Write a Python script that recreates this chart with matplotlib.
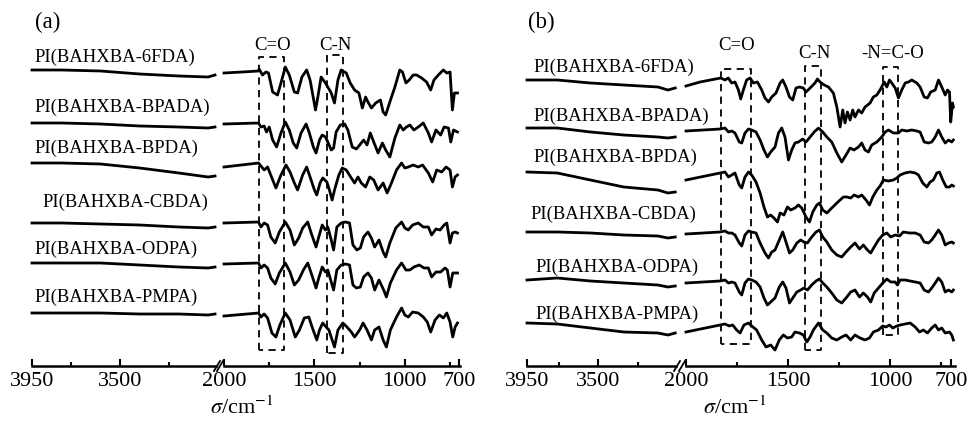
import matplotlib.pyplot as plt
from matplotlib.ticker import FixedLocator

plt.rcParams['font.family'] = ['Liberation Serif', 'DejaVu Serif']
plt.rcParams['mathtext.fontset'] = 'stix'

names = ['PI(BAHXBA-6FDA)', 'PI(BAHXBA-BPADA)', 'PI(BAHXBA-BPDA)',
         'PI(BAHXBA-CBDA)', 'PI(BAHXBA-ODPA)', 'PI(BAHXBA-PMPA)']

# ---- panel (a) ----
# high wavenumber part (3950-3010), stacked intensity (arb. units)
a_hi_wn = [3950, 3800, 3600, 3400, 3200, 3050, 3015]
a_hi = [[296, 296, 295, 292, 290, 289, 291],
        [243, 243, 242, 240, 239, 238, 239],
        [203, 203, 202, 198, 193, 189, 190],
        [143, 143, 142, 141, 139, 138, 139],
        [103, 103, 103, 101, 99, 98, 99],
        [53, 53, 53, 52, 52, 51, 52]]

a_6fda_wn = [2000, 1900, 1809, 1806, 1787, 1768, 1754, 1731, 1704, 1685, 1661, 1639, 1611, 1593, 1569,
             1543, 1524, 1494, 1481, 1463, 1439, 1426, 1407, 1389, 1370, 1352, 1324, 1302, 1278, 1254,
             1235, 1217, 1204, 1185, 1161, 1135, 1120, 1106, 1083, 1055, 1028, 1013, 994, 976, 954,
             935, 907, 880, 857, 839, 815, 787, 768, 750, 737, 726, 709]
a_6fda = [293, 294, 295, 297, 291, 294, 293, 274, 271, 283, 299, 291, 274, 273, 289,
          296, 286, 256, 269, 289, 283, 279, 273, 263, 286, 296, 293, 283, 276, 273,
          258, 269, 264, 258, 263, 266, 254, 251, 264, 279, 296, 294, 283, 286, 291,
          291, 288, 284, 276, 286, 291, 296, 293, 294, 256, 273, 273]

a_bpada_wn = [2000, 1809, 1796, 1778, 1765, 1750, 1731, 1709, 1685, 1661, 1639, 1617, 1598, 1574, 1546,
              1528, 1506, 1491, 1472, 1457, 1439, 1426, 1407, 1394, 1380, 1357, 1333, 1315, 1291, 1268,
              1250, 1228, 1209, 1191, 1172, 1148, 1124, 1106, 1083, 1055, 1028, 1009, 991, 972, 950,
              926, 898, 870, 852, 828, 802, 783, 759, 746, 731, 709]
a_bpada = [242, 243, 239, 240, 234, 239, 226, 219, 233, 244, 236, 223, 218, 233, 242,
           233, 219, 213, 226, 231, 229, 224, 216, 218, 234, 241, 242, 236, 219, 217,
           221, 226, 221, 233, 224, 213, 223, 216, 209, 228, 241, 236, 239, 241, 236,
           239, 243, 233, 224, 236, 231, 239, 238, 224, 236, 234]

a_bpda_wn = [2000, 1809, 1796, 1778, 1759, 1735, 1713, 1685, 1657, 1635, 1611, 1593, 1565, 1543, 1524,
             1500, 1487, 1469, 1454, 1431, 1417, 1402, 1389, 1365, 1346, 1324, 1296, 1278, 1259, 1241,
             1217, 1194, 1172, 1148, 1120, 1098, 1074, 1046, 1018, 1000, 981, 954, 926, 902, 870,
             846, 824, 796, 772, 750, 737, 722, 709]
a_bpda = [199, 203, 200, 196, 199, 188, 178, 191, 201, 194, 183, 176, 191, 199, 189,
          176, 171, 183, 188, 184, 176, 166, 176, 191, 198, 196, 188, 183, 189, 183,
          179, 189, 186, 176, 183, 173, 183, 196, 203, 198, 199, 201, 199, 201, 193,
          184, 196, 194, 199, 196, 179, 189, 191]

a_cbda_wn = [2000, 1809, 1796, 1778, 1759, 1741, 1717, 1694, 1661, 1635, 1611, 1587, 1565, 1537, 1518,
             1491, 1476, 1457, 1439, 1426, 1407, 1394, 1376, 1352, 1328, 1306, 1287, 1265, 1246, 1228,
             1204, 1185, 1167, 1143, 1120, 1106, 1083, 1050, 1018, 1000, 981, 957, 926, 898, 870,
             852, 828, 805, 783, 768, 750, 737, 722, 709]
a_cbda = [143, 144, 139, 143, 141, 129, 123, 134, 144, 136, 121, 128, 138, 144, 133,
          119, 129, 141, 136, 139, 126, 116, 139, 143, 144, 143, 121, 116, 118, 129,
          134, 128, 119, 126, 114, 109, 123, 138, 144, 138, 136, 141, 143, 139, 139,
          131, 137, 136, 141, 143, 123, 133, 134, 133]

a_odpa_wn = [2000, 1809, 1796, 1778, 1759, 1741, 1717, 1694, 1661, 1635, 1611, 1587, 1561, 1537, 1518,
             1491, 1476, 1457, 1439, 1426, 1407, 1394, 1376, 1352, 1328, 1306, 1287, 1268, 1246, 1228,
             1204, 1185, 1167, 1143, 1117, 1102, 1080, 1046, 1018, 994, 972, 950, 920, 894, 870,
             852, 828, 802, 778, 765, 750, 735, 709]
a_odpa = [102, 103, 98, 101, 98, 88, 82, 93, 103, 94, 81, 86, 96, 103, 93,
          78, 88, 99, 94, 96, 84, 76, 96, 101, 102, 101, 81, 78, 79, 89,
          93, 88, 76, 86, 76, 69, 83, 96, 103, 96, 96, 99, 101, 98, 98,
          89, 94, 94, 98, 96, 79, 93, 93]

a_pmpa_wn = [2000, 1809, 1796, 1778, 1759, 1735, 1713, 1691, 1661, 1635, 1606, 1583, 1556, 1531, 1513,
             1487, 1472, 1454, 1435, 1420, 1402, 1389, 1370, 1343, 1320, 1296, 1278, 1250, 1231, 1209,
             1185, 1167, 1143, 1120, 1102, 1080, 1046, 1018, 1000, 981, 957, 926, 898, 876, 857,
             833, 809, 787, 768, 750, 735, 722, 709]
a_pmpa = [50, 53, 49, 52, 48, 33, 29, 41, 53, 46, 29, 36, 48, 49, 39,
          26, 36, 43, 39, 36, 26, 19, 36, 43, 39, 34, 29, 36, 43, 36,
          26, 36, 39, 26, 19, 36, 49, 58, 51, 49, 54, 53, 49, 44, 34,
          46, 51, 48, 53, 44, 29, 39, 43]

# ---- panel (b) ----
b_hi_wn = [3950, 3759, 3550, 3340, 3124, 3061, 3015]
b_hi = [[286, 286, 283, 281, 279, 276, 278],
        [238, 238, 234, 231, 229, 228, 229],
        [194, 193, 186, 179, 176, 173, 174],
        [134, 134, 133, 131, 130, 128, 129],
        [86, 88, 85, 83, 81, 79, 80],
        [43, 42, 38, 34, 33, 31, 33]]

b_6fda_wn = [2000, 1931, 1830, 1809, 1793, 1776, 1760, 1743, 1732, 1719, 1703, 1686, 1670, 1650, 1629,
             1613, 1596, 1580, 1559, 1539, 1526, 1510, 1493, 1477, 1461, 1444, 1425, 1412, 1392, 1368,
             1356, 1343, 1323, 1302, 1278, 1261, 1245, 1232, 1221, 1209, 1196, 1183, 1172, 1155, 1139,
             1123, 1098, 1082, 1065, 1049, 1029, 1016, 1003, 992, 975, 959, 943, 926, 910, 894,
             869, 853, 833, 817, 801, 779, 763, 747, 730, 719, 709, 703, 694, 690]
b_6fda = [280, 284, 288, 286, 288, 283, 284, 276, 267, 276, 286, 288, 283, 284, 276,
          268, 264, 269, 273, 283, 286, 279, 269, 266, 278, 279, 278, 274, 278, 283,
          287, 284, 281, 279, 273, 259, 239, 256, 243, 254, 246, 256, 249, 256, 253,
          259, 263, 269, 271, 276, 284, 279, 286, 283, 278, 268, 276, 283, 284, 286,
          283, 279, 269, 268, 274, 276, 286, 279, 271, 276, 274, 244, 263, 259]

b_bpada_wn = [2000, 1833, 1809, 1792, 1776, 1760, 1739, 1727, 1711, 1694, 1678, 1657, 1637, 1618, 1601,
              1585, 1564, 1547, 1531, 1515, 1498, 1482, 1466, 1449, 1428, 1412, 1392, 1372, 1351, 1330,
              1310, 1286, 1261, 1237, 1216, 1196, 1177, 1155, 1139, 1123, 1106, 1090, 1065, 1041, 1024,
              1008, 984, 959, 943, 918, 894, 869, 853, 833, 812, 796, 779, 763, 747, 730,
              714, 698, 690]
b_bpada = [235, 237, 238, 234, 235, 233, 224, 223, 233, 237, 236, 234, 226, 216, 209,
           214, 219, 233, 238, 229, 206, 216, 223, 224, 227, 224, 229, 234, 238, 234,
           229, 224, 213, 204, 211, 218, 216, 219, 223, 216, 214, 221, 224, 229, 234,
           236, 233, 233, 236, 235, 236, 235, 234, 224, 223, 224, 229, 236, 229, 223,
           226, 224, 226]

b_bpda_wn = [2000, 1833, 1809, 1792, 1776, 1760, 1739, 1727, 1711, 1694, 1678, 1657, 1637, 1618, 1601,
             1585, 1569, 1552, 1539, 1520, 1503, 1487, 1466, 1449, 1433, 1412, 1395, 1379, 1359, 1346,
             1330, 1310, 1286, 1261, 1245, 1229, 1212, 1193, 1176, 1155, 1139, 1118, 1101, 1085, 1065,
             1049, 1033, 1008, 984, 967, 951, 927, 902, 877, 861, 840, 820, 804, 788, 771,
             758, 742, 725, 709, 698, 690]
b_bpda = [186, 193, 194, 189, 191, 193, 181, 178, 189, 194, 191, 184, 173, 159, 149,
          151, 148, 144, 153, 151, 159, 156, 158, 161, 158, 149, 144, 154, 161, 163,
          156, 153, 158, 163, 166, 169, 169, 168, 171, 169, 171, 166, 161, 169, 176,
          180, 186, 185, 186, 188, 191, 193, 194, 193, 191, 183, 179, 184, 186, 193,
          194, 186, 179, 179, 181, 180]

b_cbda_wn = [2000, 1833, 1809, 1792, 1776, 1760, 1739, 1727, 1711, 1694, 1678, 1657, 1637, 1613, 1596,
             1580, 1564, 1543, 1526, 1510, 1493, 1477, 1457, 1438, 1422, 1405, 1384, 1363, 1346, 1330,
             1310, 1286, 1261, 1237, 1216, 1193, 1172, 1150, 1131, 1111, 1095, 1078, 1057, 1036, 1016,
             997, 975, 954, 935, 905, 877, 853, 833, 812, 796, 779, 763, 747, 730, 714,
             698, 690]
b_cbda = [132, 134, 135, 133, 133, 131, 123, 120, 131, 135, 134, 133, 123, 113, 108,
          114, 116, 126, 134, 124, 113, 116, 123, 126, 124, 123, 129, 134, 136, 129,
          124, 116, 111, 109, 114, 119, 123, 117, 121, 116, 113, 119, 126, 131, 133,
          129, 131, 130, 134, 133, 133, 131, 124, 123, 126, 131, 136, 131, 121, 123,
          124, 123]

b_odpa_wn = [2000, 1833, 1809, 1792, 1776, 1760, 1739, 1727, 1711, 1694, 1678, 1657, 1637, 1618, 1601,
             1585, 1564, 1543, 1526, 1510, 1493, 1477, 1457, 1438, 1422, 1405, 1384, 1363, 1346, 1330,
             1310, 1286, 1261, 1237, 1216, 1193, 1172, 1150, 1131, 1111, 1095, 1078, 1057, 1036, 1016,
             997, 975, 964, 951, 927, 902, 877, 853, 833, 812, 796, 779, 763, 747, 730,
             714, 698, 690]
b_odpa = [83, 85, 86, 83, 84, 83, 74, 71, 83, 87, 86, 84, 79, 68, 61,
          64, 68, 79, 84, 78, 63, 68, 74, 76, 78, 76, 81, 85, 87, 83,
          79, 73, 66, 63, 68, 74, 76, 69, 73, 69, 64, 73, 78, 83, 87,
          84, 84, 81, 86, 86, 85, 84, 83, 76, 74, 78, 83, 88, 84, 74,
          76, 74, 76]

b_pmpa_wn = [2000, 1833, 1809, 1788, 1771, 1752, 1735, 1716, 1694, 1678, 1654, 1629, 1608, 1585, 1564,
             1543, 1523, 1503, 1482, 1466, 1444, 1425, 1408, 1392, 1376, 1351, 1330, 1310, 1286, 1261,
             1237, 1216, 1193, 1172, 1147, 1123, 1101, 1082, 1057, 1036, 1020, 1003, 987, 967, 951,
             927, 902, 877, 856, 837, 817, 796, 779, 763, 747, 730, 709, 698, 690]
b_pmpa = [34, 41, 42, 40, 41, 36, 33, 41, 43, 40, 36, 26, 19, 21, 16,
          26, 31, 28, 29, 34, 33, 31, 24, 29, 36, 43, 36, 33, 28, 26,
          29, 31, 26, 31, 28, 26, 28, 34, 36, 40, 39, 41, 38, 40, 41,
          42, 43, 39, 34, 36, 33, 38, 41, 36, 38, 33, 34, 31, 26]

# band markers: (high wn, low wn), (bottom, top)
a_band_names = ['C=O', 'C-N']
a_band_wn = [(1806, 1667), (1428, 1344)]
a_band_v = [(16, 309), (13, 311)]
a_band_text = [(1731, 321), (1383, 321)]

b_band_names = ['C=O', 'C-N', '-N=C-O']
b_band_wn = [(1828, 1681), (1417, 1338), (1034, 961)]
b_band_v = [(22, 297), (16, 300), (31, 299)]
b_band_text = [(1750, 321), (1373, 312), (990, 313)]

# label positions (left axis data coords)
a_label_pos = [(3935, 309), (3935, 259), (3935, 218), (3899, 164), (3935, 117), (3935, 69)]
b_label_pos = [(3912, 299), (3912, 250), (3912, 209), (3931, 152), (3899, 99), (3899, 52)]

W, H = 973, 421
fig = plt.figure(figsize=(W / 100, H / 100), dpi=100)


def make_axes(x0, x1, xlim, major, minor):
    ax = fig.add_axes([x0 / W, 55 / H, (x1 - x0) / W, 330 / H])
    ax.set_xlim(*xlim)
    ax.set_ylim(0, 330)
    for s in ['top', 'left', 'right']:
        ax.spines[s].set_visible(False)
    ax.spines['bottom'].set_linewidth(1.8)
    ax.set_yticks([])
    ax.xaxis.set_major_locator(FixedLocator(major))
    ax.xaxis.set_minor_locator(FixedLocator(minor))
    ax.tick_params(axis='x', which='both', direction='in', width=1.5, labelsize=16, pad=4)
    ax.tick_params(axis='x', which='major', length=5)
    ax.tick_params(axis='x', which='minor', length=3)
    ax.patch.set_alpha(0)
    return ax


def axis_break(xa, xb):
    for x in (xa, xb):
        fig.add_artist(plt.Line2D([(x - 3) / W, (x + 3) / W], [1 - 371 / H, 1 - 361 / H],
                                  color='black', lw=1.3))


def draw_panel(tag, hi_x, lo_x, hi_wn, hi_vals, lo_series, band_names, band_wn, band_v,
               band_text, label_pos, tag_x, xlabel_x):
    ax1 = make_axes(hi_x[0], hi_x[1], (3950, 3010), [3950, 3500], [3750, 3250])
    ax2 = make_axes(lo_x[0], lo_x[1], (2000, lo_x[2]), [2000, 1500, 1000, 700], [1750, 1250, 750])
    axis_break(hi_x[1] + 1, lo_x[0] - 4)
    for vals in hi_vals:
        ax1.plot(hi_wn, vals, color='black', lw=2.0, clip_on=False)
    for wn, vals in lo_series:
        ax2.plot(wn, vals, color='black', lw=2.0, clip_on=False)
    for name, (x, y) in zip(names, label_pos):
        ax1.text(x, y, name, fontsize=13.4, ha='left', va='center', clip_on=False)
    for name, (hi, lo), (b, t), (tx, ty) in zip(band_names, band_wn, band_v, band_text):
        ax2.plot([hi, hi, lo, lo, hi], [b, t, t, b, b], color='black', lw=1.3,
                 linestyle=(0, (4, 3)), clip_on=False)
        ax2.text(tx, ty, name, fontsize=13.5, ha='center', va='center', clip_on=False)
    fig.text(tag_x / W, 1 - 22 / H, tag, fontsize=16.5, ha='left', va='center')
    fig.text(xlabel_x / W, 1 - 408 / H, r'$\sigma$/cm$^{-1}$', fontsize=16, ha='center', va='center')


draw_panel('(a)', (32, 216), (224, 460, 695), a_hi_wn, a_hi,
           [(a_6fda_wn, a_6fda), (a_bpada_wn, a_bpada), (a_bpda_wn, a_bpda),
            (a_cbda_wn, a_cbda), (a_odpa_wn, a_odpa), (a_pmpa_wn, a_pmpa)],
           a_band_names, a_band_wn, a_band_v, a_band_text, a_label_pos, 35, 242)

draw_panel('(b)', (527, 676), (686, 955, 682), b_hi_wn, b_hi,
           [(b_6fda_wn, b_6fda), (b_bpada_wn, b_bpada), (b_bpda_wn, b_bpda),
            (b_cbda_wn, b_cbda), (b_odpa_wn, b_odpa), (b_pmpa_wn, b_pmpa)],
           b_band_names, b_band_wn, b_band_v, b_band_text, b_label_pos, 528, 735)

fig.savefig('out.png', dpi=100)
